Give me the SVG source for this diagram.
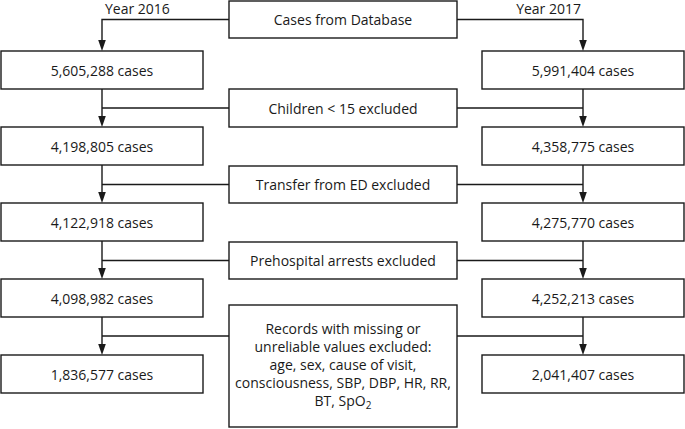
<svg xmlns="http://www.w3.org/2000/svg" width="685" height="429" viewBox="0 0 685 429">
<style>
.b{fill:#fff;stroke:#1a1a1a;stroke-width:1.4}
.t{font-family:"Open Sans","Noto Sans","Liberation Sans",sans-serif;font-size:14px;fill:#1a1a1a;text-anchor:middle}
.c{fill:none;stroke:#1a1a1a;stroke-width:1.4}
.a{fill:#1a1a1a;stroke:none}
</style>
<defs>
<polygon id="ah" class="a" points="0,0 -3.8,-11 3.8,-11"/>
</defs>
<g id="connectors">
<path class="c" d="M229,19.5H102V41 M457,19.5H583V41"/>
<path class="c" d="M102,89V117 M229,108H102 M583,89V117 M457,108H583"/>
<path class="c" d="M102,165V193 M229,184.5H102 M583,165V193 M457,184.5H583"/>
<path class="c" d="M102,241V269 M229,260.5H102 M583,241V269 M457,260.5H583"/>
<path class="c" d="M102,317V345 M229,336H102 M583,317V345 M457,336H583"/>
<use href="#ah" x="102" y="51"/><use href="#ah" x="583" y="51"/>
<use href="#ah" x="102" y="127"/><use href="#ah" x="583" y="127"/>
<use href="#ah" x="102" y="203"/><use href="#ah" x="583" y="203"/>
<use href="#ah" x="102" y="279"/><use href="#ah" x="583" y="279"/>
<use href="#ah" x="102" y="355"/><use href="#ah" x="583" y="355"/>
</g>
<g id="year2016"><text class="t" x="105" y="14" style="text-anchor:start">Year 2016</text></g>
<g id="year2017"><text class="t" x="581" y="14" style="text-anchor:end">Year 2017</text></g>
<g id="db"><rect class="b" x="229" y="1" width="228" height="37"/><text class="t" x="343" y="24.5">Cases from Database</text></g>
<g id="l1"><rect class="b" x="1" y="51" width="202" height="38"/><text class="t" x="102" y="75.5">5,605,288 cases</text></g>
<g id="r1"><rect class="b" x="482" y="51" width="202" height="38"/><text class="t" x="583" y="75.5">5,991,404 cases</text></g>
<g id="children"><rect class="b" x="229" y="89" width="228" height="38"/><text class="t" x="343" y="113.5">Children &lt; 15 excluded</text></g>
<g id="l2"><rect class="b" x="1" y="127" width="202" height="38"/><text class="t" x="102" y="151.5">4,198,805 cases</text></g>
<g id="r2"><rect class="b" x="482" y="127" width="202" height="38"/><text class="t" x="583" y="151.5">4,358,775 cases</text></g>
<g id="transfer"><rect class="b" x="229" y="166" width="228" height="37"/><text class="t" x="343" y="189.5">Transfer from ED excluded</text></g>
<g id="l3"><rect class="b" x="1" y="203" width="202" height="38"/><text class="t" x="102" y="227.5">4,122,918 cases</text></g>
<g id="r3"><rect class="b" x="482" y="203" width="202" height="38"/><text class="t" x="583" y="227.5">4,275,770 cases</text></g>
<g id="prehospital"><rect class="b" x="229" y="242" width="228" height="37"/><text class="t" x="343" y="265.5">Prehospital arrests excluded</text></g>
<g id="l4"><rect class="b" x="1" y="279" width="202" height="38"/><text class="t" x="102" y="303.5">4,098,982 cases</text></g>
<g id="r4"><rect class="b" x="482" y="279" width="202" height="38"/><text class="t" x="583" y="303.5">4,252,213 cases</text></g>
<g id="records"><rect class="b" x="229" y="305" width="228" height="122"/>
<text class="t" x="343" y="334">Records with missing or</text>
<text class="t" x="343" y="352">unreliable values excluded:</text>
<text class="t" x="343" y="370">age, sex, cause of visit,</text>
<text class="t" x="343" y="388">consciousness, SBP, DBP, HR, RR,</text>
<text class="t" x="343" y="406">BT, SpO<tspan font-size="10" dy="3">2</tspan></text>
</g>
<g id="l5"><rect class="b" x="1" y="355" width="202" height="38"/><text class="t" x="102" y="379.5">1,836,577 cases</text></g>
<g id="r5"><rect class="b" x="482" y="355" width="202" height="38"/><text class="t" x="583" y="379.5">2,041,407 cases</text></g>
</svg>
